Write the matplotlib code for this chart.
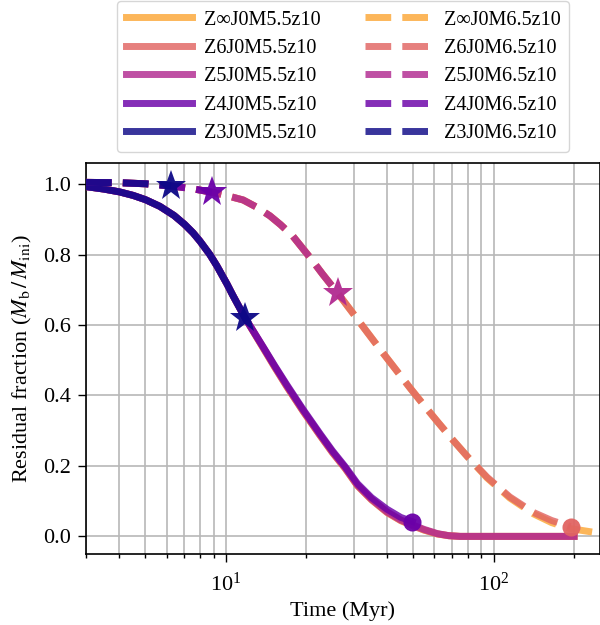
import matplotlib
matplotlib.use('Agg')
import matplotlib.pyplot as plt

plt.rcParams['font.family'] = ['Liberation Serif', 'DejaVu Serif']
plt.rcParams['mathtext.fontset'] = 'stix'

# ---------------- data ----------------
models = ['Z∞', 'Z6', 'Z5', 'Z4', 'Z3']
cmap_pos = [0.8, 0.6, 0.4, 0.2, 0.0]

# M5.5 runs (time in Myr, residual fraction)
t_m55 = [3.0, 3.5, 4.0, 4.5, 5.0, 5.66, 6.4, 7.0, 7.53, 8.0, 8.71, 9.25, 10.1,
         10.6, 11.8, 13.8, 15.2, 16.9, 19.4, 22.5, 25.0, 27.9, 31.0, 35.0, 40.0,
         45.0, 49.7, 55.0, 61.6, 68.0, 75.0, 100.0, 150.0, 200.0]
f_m55_zinf = [0.993, 0.986, 0.978, 0.968, 0.956, 0.937, 0.911, 0.886, 0.862, 0.838,
              0.800, 0.768, 0.716, 0.685, 0.620, 0.534, 0.481, 0.425, 0.356, 0.286,
              0.238, 0.193, 0.144, 0.104, 0.068, 0.045, 0.031, 0.018, 0.007, 0.002,
              0.0, 0.0, 0.0, 0.0]
f_m55_z6 = [0.993, 0.986, 0.978, 0.968, 0.956, 0.937, 0.911, 0.886, 0.862, 0.838,
            0.800, 0.768, 0.716, 0.685, 0.620, 0.534, 0.481, 0.425, 0.356, 0.286,
            0.238, 0.193, 0.144, 0.104, 0.068, 0.045, 0.031, 0.018, 0.007, 0.002,
            0.0, 0.0, 0.0, 0.0]
f_m55_z5 = [0.993, 0.986, 0.978, 0.968, 0.956, 0.937, 0.911, 0.886, 0.862, 0.838,
            0.800, 0.768, 0.716, 0.685, 0.620, 0.536, 0.483, 0.427, 0.358, 0.288,
            0.240, 0.195, 0.146, 0.106, 0.070, 0.047, 0.033, 0.020, 0.008, 0.002,
            0.0, 0.0, 0.0, 0.0]
f_m55_z4 = [0.993, 0.986, 0.978, 0.968, 0.956, 0.937, 0.911, 0.886, 0.862, 0.838,
            0.800, 0.768, 0.716, 0.685, 0.620, 0.537, 0.485, 0.430, 0.361, 0.291,
            0.243, 0.198, 0.150, 0.110, 0.077, 0.054, 0.042]
f_m55_z3 = [0.993, 0.986, 0.978, 0.968, 0.956, 0.937, 0.911, 0.886, 0.862, 0.838,
            0.800, 0.768, 0.716, 0.685, 0.620]
n_m55 = [34, 34, 34, 27, 15]
f_m55 = [f_m55_zinf, f_m55_z6, f_m55_z5, f_m55_z4, f_m55_z3]

# M6.5 runs
t_m65 = [3.0, 4.0, 5.0, 6.24, 7.5, 8.87, 10.0, 11.6, 13.0, 14.6, 16.0, 17.8,
         20.6, 23.0, 26.2, 30.0, 33.7, 38.5, 43.6, 48.8, 55.0, 62.0, 70.6, 80.0,
         94.6, 115.0, 141.0, 165.0, 194.0, 240.0]
f_m65_zinf = [1.005, 1.004, 1.001, 0.995, 0.987, 0.977, 0.968, 0.955, 0.935, 0.910,
              0.885, 0.852, 0.792, 0.744, 0.690, 0.631, 0.580, 0.522, 0.469, 0.421,
              0.372, 0.324, 0.273, 0.226, 0.166, 0.109, 0.064, 0.039, 0.022, 0.011]
f_m65_z6 = [1.005, 1.004, 1.001, 0.995, 0.987, 0.977, 0.968, 0.955, 0.935, 0.910,
            0.885, 0.852, 0.792, 0.744, 0.690, 0.631, 0.580, 0.522, 0.469, 0.421,
            0.372, 0.324, 0.273, 0.226, 0.168, 0.112, 0.068, 0.045, 0.028]
f_m65_z5 = [1.005, 1.004, 1.001, 0.995, 0.987, 0.977, 0.968, 0.955, 0.935, 0.910,
            0.885, 0.852, 0.792, 0.744, 0.690]
f_m65_z4 = [1.005, 1.004, 1.001, 0.995, 0.987, 0.977]
f_m65_z3 = [1.005, 1.004, 1.001, 0.995]
n_m65 = [30, 29, 15, 6, 4]
f_m65 = [f_m65_zinf, f_m65_z6, f_m65_z5, f_m65_z4, f_m65_z3]

end_m55 = [None, None, None, 'o', '*']
end_m65 = [None, 'o', '*', '*', '*']

yticks = [0.0, 0.2, 0.4, 0.6, 0.8, 1.0]

# ---------------- plot ----------------
fig = plt.figure(figsize=(6.0, 6.25), dpi=100)
ax = fig.add_axes([86/600, 71/625, 514/600, 391/625])
cmap = plt.get_cmap('plasma')
lw = 5
alpha = 0.82

def draw(ts, fs, n, ends, ls, mass):
    for name, p, f, k, em in zip(models, cmap_pos, fs, n, ends):
        c = cmap(p)
        t = ts[:k]
        ax.plot(t, f, ls=ls, lw=lw, color=c, alpha=alpha,
                label=f'{name}J0M{mass}z10', zorder=3)
        if em is not None:
            ms = 23 if em == '*' else 13
            ax.plot([t[-1]], [f[-1]], marker=em, ms=ms, color=c, alpha=0.95,
                    ls='none', zorder=4, markeredgewidth=0)

draw(t_m55, f_m55, n_m55, end_m55, '-', '5.5')
draw(t_m65, f_m65, n_m65, end_m65, '--', '6.5')

ax.set_xscale('log')
ax.set_xlim(3, 250)
ax.set_ylim(-0.05, 1.06)
ax.set_yticks(yticks)
ax.set_yticklabels([f'{v:.1f}' for v in yticks])
ax.grid(True, which='both', axis='x', color='#b8b8b8', lw=1.2, zorder=0)
ax.grid(True, which='major', axis='y', color='#b8b8b8', lw=1.2, zorder=0)
ax.set_axisbelow(True)
ax.tick_params(axis='both', which='major', labelsize=16, length=5.5, width=1)
ax.tick_params(axis='x', which='major', pad=8)
ax.tick_params(axis='y', which='major', pad=5)
ax.tick_params(axis='both', which='minor', length=3.2, width=1)
for s in ax.spines.values():
    s.set_linewidth(1.2)

ax.set_xlabel('Time (Myr)', fontsize=16, labelpad=4)
ax.set_ylabel(r'Residual fraction ($M_{\rm b}\,/\,M_{\rm ini}$)', fontsize=16,
              labelpad=7)

ax.legend(loc='lower center', bbox_to_anchor=(0.5, 0.028 + 1.0), ncol=2,
          borderaxespad=0.0,
          fontsize=14.5, handlelength=3.3, handletextpad=0.6,
          columnspacing=2.2, labelspacing=0.46, borderpad=0.45)

fig.savefig('out.png', dpi=100)
